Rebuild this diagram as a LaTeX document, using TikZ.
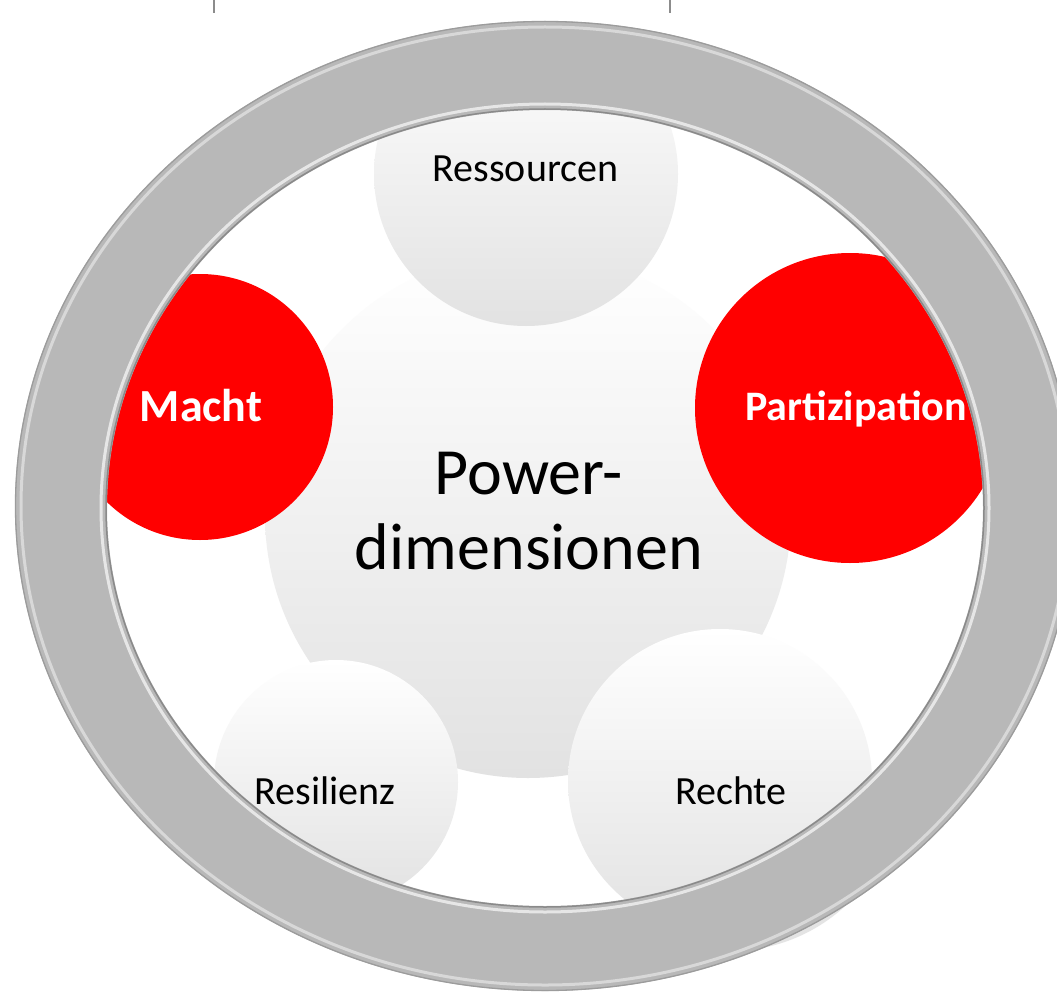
\documentclass[tikz,border=0pt]{standalone}
\usepackage{fontspec}
\setmainfont{Carlito}
\definecolor{discgray}{HTML}{E2E2E2}
\definecolor{vivid}{HTML}{FF0000}
\definecolor{ringgray}{HTML}{B8B8B8}
\definecolor{ringedge}{HTML}{9C9C9C}
\definecolor{ringdark}{HTML}{8A8A8A}
\definecolor{ringlight}{HTML}{D8D8D8}
\definecolor{ringshine}{HTML}{F2F2F2}
\definecolor{shadowgray}{HTML}{E4E4E4}
\definecolor{tickgray}{HTML}{8C8C8C}
\begin{document}
\begin{tikzpicture}[x=1pt,y=-1pt,
  softdisc/.style={circle, inner sep=0pt, outer sep=0pt, shading=axis,
                   top color=white, bottom color=discgray, minimum size=#1},
  reddisc/.style={circle, inner sep=0pt, outer sep=0pt, fill=vivid, minimum size=#1},
  lbl/.style={anchor=base, text=black, inner sep=0pt, font=\fontsize{40}{48}\selectfont},
  redlbl/.style={anchor=base, text=white, inner sep=0pt, font=\bfseries\fontsize{#1}{#1}\selectfont},
  tickmark/.style={draw=tickgray, line width=2.5pt},
]
\useasboundingbox (0,0) rectangle (1057,995);
\clip (0,0) rectangle (1057,995);
\fill[white] (0,0) rectangle (1057,995);

% soft shadow peeking out below the ring, bottom right
\fill[shadowgray] (730,781) circle[radius=170pt];
% white face inside the ring
\fill[white] (545,506) ellipse[x radius=530pt, y radius=485pt];

% discs
\node[softdisc=526pt] (core) at (528,515) {};
\node[softdisc=304pt] (res) at (526,174) {};
\node[softdisc=244pt] (resil) at (336,782) {};
\node[softdisc=304pt] (rights) at (720,781) {};
\node[reddisc=266pt] (power) at (200,407) {};
\node[reddisc=310pt] (part) at (850,408) {};

% the ring
\fill[ringgray, even odd rule]
  (545,506) ellipse[x radius=530pt, y radius=485pt]
  (545,508) ellipse[x radius=438pt, y radius=398pt];
\draw[ringlight, line width=3pt] (545,506) ellipse[x radius=524pt, y radius=479pt];
\draw[ringedge, line width=1.3pt] (545,506) ellipse[x radius=529.5pt, y radius=484.5pt];
\draw[ringshine, line width=3pt, opacity=0.8] (545,508) ellipse[x radius=444pt, y radius=404pt];
\draw[ringdark, line width=1.5pt] (545,508) ellipse[x radius=439pt, y radius=399pt];

% labels
\node[lbl] (tres) at (525.5,182) {Ressourcen};
\node[lbl] (tresil) at (325,804) {Resilienz};
\node[lbl] (trights) at (731,804) {Rechte};
\node[redlbl=46] (tpower) at (201,421) {Macht};
\node[redlbl=42] (tpart) at (856,420) {Partizipation};
\node[align=center, text=black, inner sep=0pt, font=\fontsize{66}{75}\selectfont]
  (tcore) at (529,511) {Power-\\dimensionen};

% small strokes along the top edge
\coordinate (tickAtop) at (214,0);
\coordinate (tickAbot) at (214,13);
\coordinate (tickBtop) at (670,0);
\coordinate (tickBbot) at (670,13);
\draw[tickmark] (tickAtop) -- (tickAbot);
\draw[tickmark] (tickBtop) -- (tickBbot);
\end{tikzpicture}
\end{document}
